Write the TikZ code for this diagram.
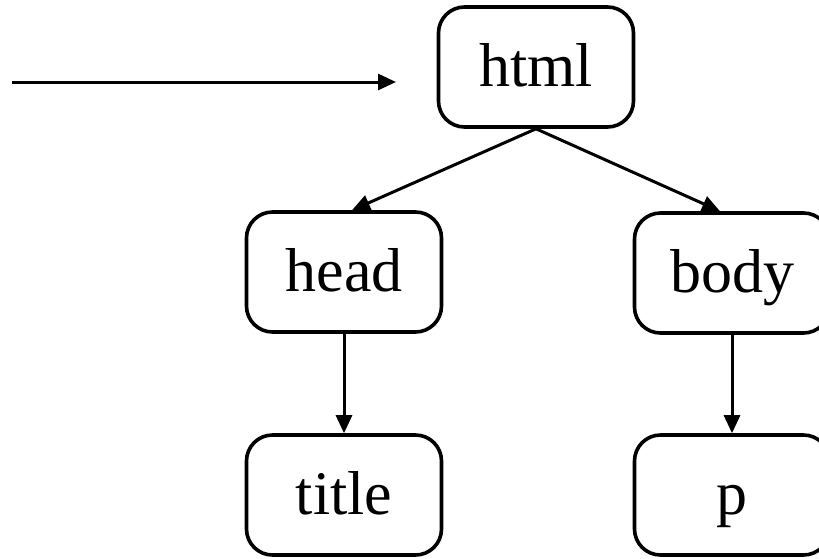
\documentclass[tikz,border=0pt]{standalone}
\usepackage{fontspec}
\setmainfont{Liberation Serif}
\usetikzlibrary{arrows.meta}
\begin{document}
\begin{tikzpicture}[x=1pt,y=-1pt,
  tag/.style={draw,line width=3.6pt,rounded corners=26pt,minimum width=195pt,
    minimum height=120pt,inner sep=0pt,text height=45pt,text depth=6pt,
    font=\fontsize{62}{74}\selectfont},
  link/.style={line width=3pt,-{Triangle[length=18pt,width=16pt]}}]
\clip (0,0) rectangle (819,558);
\fill[white] (0,0) rectangle (819,558);
\node[tag] (html) at (536,67) {html};
\node[tag] (head) at (344,272) {head};
\node[tag] (body) at (732,273) {body};
\node[tag] (title) at (344,495) {title};
\node[tag] (p) at (732,495) {p};
\coordinate (from) at (12,82);
\coordinate (to) at (396,82);
\draw[link] (from) -- (to);
\draw[link] (html.south) -- ([xshift=8pt]head.north);
\draw[link] (html.south) -- ([xshift=-12pt]body.north);
\draw[link] (head) -- (title);
\draw[link] (body) -- (p);
\end{tikzpicture}
\end{document}
